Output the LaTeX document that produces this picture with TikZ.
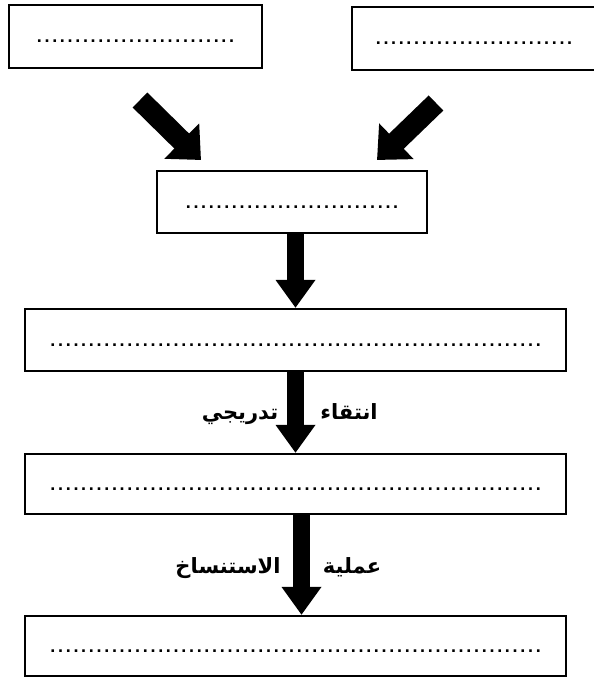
\documentclass[tikz,border=0pt]{standalone}
\usepackage{fontspec}
\setmainfont{Liberation Sans}
\newfontfamily\arabicfont[Script=Arabic]{DejaVu Sans}
\TeXXeTstate=1
\usetikzlibrary{arrows.meta}
\newcommand\dotrow[1]{\raisebox{-12pt}{\hbox to #1{\xleaders\hbox to 7.6pt{\hss\fontsize{18}{18}\selectfont\bfseries.\hss}\hfill}}}
\tikzset{
  box/.style={draw, line width=2.2pt, rectangle, inner sep=0pt},
  blockarrow/.style={line width=17pt, -{Triangle[width=38pt,length=28pt]}},
  diagarrow/.style={line width=21pt, -{Triangle[width=48pt,length=27pt]}},
  lbl/.style={font=\arabicfont\bfseries\fontsize{21}{24}\selectfont, inner sep=0pt, anchor=base}
}
\begin{document}
\begin{tikzpicture}[x=1pt,y=-1pt]
\useasboundingbox (0,0) rectangle (594,678);
\clip (0,0) rectangle (594,678);
\node[box, minimum width=253pt, minimum height=63pt] (b1) at (135.5,36.5) {\dotrow{200pt}};
\node[box, minimum width=250pt, minimum height=63pt] (b2) at (477,38.5) {\hspace{-6pt}\dotrow{199pt}\hspace{6pt}};
\node[box, minimum width=270pt, minimum height=62pt] (b3) at (292,202) {\dotrow{215pt}};
\node[box, minimum width=541pt, minimum height=62pt] (b4) at (295.5,340) {\dotrow{493pt}};
\node[box, minimum width=541pt, minimum height=60pt] (b5) at (295.5,484) {\dotrow{493pt}};
\node[box, minimum width=541pt, minimum height=60pt] (b6) at (295.5,646) {\dotrow{493pt}};
\coordinate (t1) at (140,100);
\coordinate (h1) at (201,160);
\coordinate (t2) at (436,103);
\coordinate (h2) at (377,160);
\draw[diagarrow] (t1) -- (h1);
\draw[diagarrow] (t2) -- (h2);
\draw[blockarrow] (b3.south -| b4.north) -- (b4.north);
\draw[blockarrow] (b4.south) -- (b5.north);
\draw[blockarrow] ([xshift=6pt]b5.south) -- ([xshift=6pt]b6.north);
\node[lbl] (l1) at (349,419) {\beginR انتقاء\endR};
\node[lbl] (l2) at (240,419) {\beginR تدريجي\endR};
\node[lbl] (l3) at (352,573) {\beginR عملية\endR};
\node[lbl] (l4) at (228,573) {\beginR الاستنساخ\endR};
\end{tikzpicture}
\end{document}
